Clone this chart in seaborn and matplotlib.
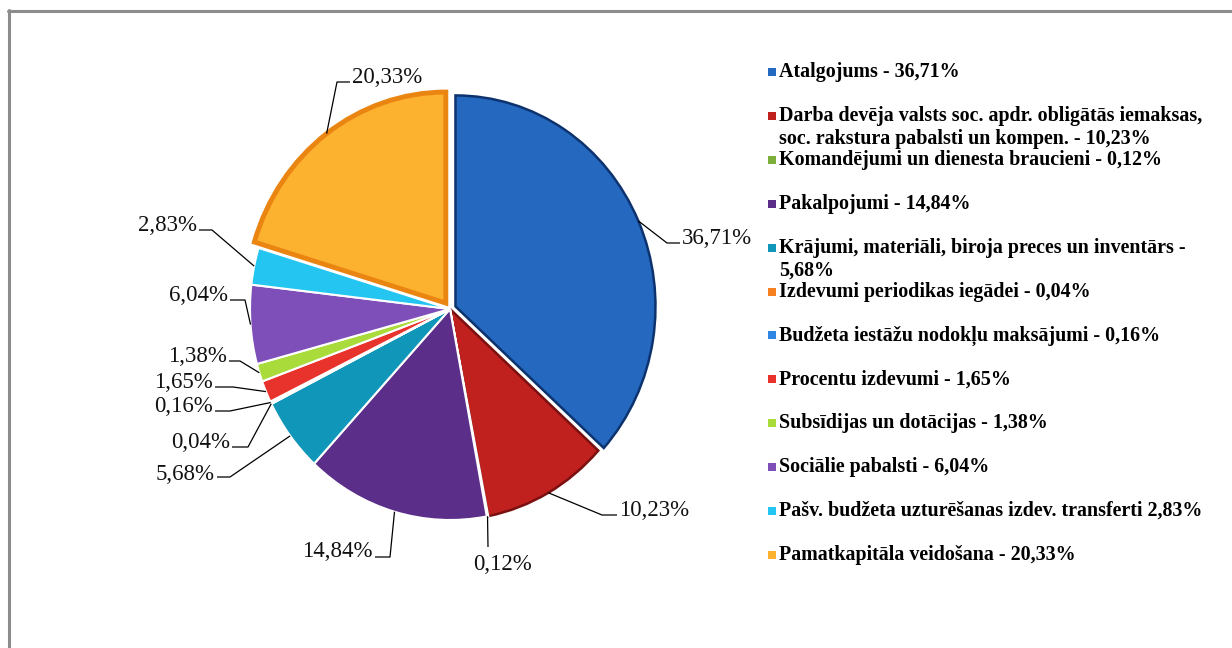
"""Expense structure pie chart (LV)."""

import matplotlib
import matplotlib.pyplot as plt
import numpy as np
import seaborn as sns
from matplotlib.lines import Line2D

matplotlib.use("Agg")

# ---- data ---------------------------------------------------------------
categories = [
    "Atalgojums",
    "Darba devēja valsts soc. apdr. obligātās iemaksas, soc. rakstura pabalsti un kompen.",
    "Komandējumi un dienesta braucieni",
    "Pakalpojumi",
    "Krājumi, materiāli, biroja preces un inventārs",
    "Izdevumi periodikas iegādei",
    "Budžeta iestāžu nodokļu maksājumi",
    "Procentu izdevumi",
    "Subsīdijas un dotācijas",
    "Sociālie pabalsti",
    "Pašv. budžeta uzturēšanas izdev. transferti",
    "Pamatkapitāla veidošana",
]
shares = [36.71, 10.23, 0.12, 14.84, 5.68, 0.04, 0.16, 1.65, 1.38, 6.04, 2.83, 20.33]
legend_labels = [
    "Atalgojums - 36,71%",
    "Darba devēja valsts soc. apdr. obligātās iemaksas,\nsoc. rakstura pabalsti un kompen. - 10,23%",
    "Komandējumi un dienesta braucieni - 0,12%",
    "Pakalpojumi - 14,84%",
    "Krājumi, materiāli, biroja preces un inventārs -\n5,68%",
    "Izdevumi periodikas iegādei - 0,04%",
    "Budžeta iestāžu nodokļu maksājumi - 0,16%",
    "Procentu izdevumi - 1,65%",
    "Subsīdijas un dotācijas - 1,38%",
    "Sociālie pabalsti - 6,04%",
    "Pašv. budžeta uzturēšanas izdev. transferti 2,83%",
    "Pamatkapitāla veidošana - 20,33%",
]

# ---- style --------------------------------------------------------------
colors = [
    "#2468C0", "#C0201E", "#7EAE3C", "#5A2E89", "#1096B9", "#F6801F",
    "#2F86E3", "#E8322C", "#A9DB3B", "#7E4FB9", "#24C6F1", "#FDB22F",
]
edge_colors = {0: "#0D336E", 1: "#7A1010", 11: "#EA8512"}
explode = [0.03, 0, 0, 0, 0, 0, 0, 0, 0, 0, 0, 0.035]

# label layout in pixels: (text x, baseline y, ha, leader elbow points)
label_layout = [
    (682, 244, "left", [(667, 243), (680, 243)]),
    (619, 516, "left", [(602, 515), (617, 515)]),
    (502, 570, "center", [(488, 547)]),
    (373, 557, "right", [(390, 557), (375, 557)]),
    (215, 480, "right", [(230, 477), (217, 477)]),
    (230, 448, "right", [(248, 447), (232, 447)]),
    (213, 412, "right", [(230, 411), (215, 411)]),
    (213, 388, "right", [(233, 387), (215, 387)]),
    (227, 362, "right", [(240, 361), (229, 361)]),
    (228, 301, "right", [(245, 300), (230, 300)]),
    (197, 231, "right", [(212, 230), (199, 230)]),
    (352, 83, "left", [(337, 82), (350, 82)]),
]

W, H = 1232, 648
CX, CY, RX, RY = 450, 309, 200, 211


def dx(px):
    return (px - CX) / RX


def dy(py):
    return (CY - py) / RY


sns.set_theme(style="white")
plt.rcParams["font.family"] = ["Liberation Serif", "DejaVu Serif"]

fig = plt.figure(figsize=(W / 100, H / 100), dpi=100, facecolor="white")
ax = fig.add_axes([0, 0, 1, 1])

wedges, _ = ax.pie(
    shares,
    colors=colors,
    startangle=90,
    counterclock=False,
    explode=explode,
    wedgeprops=dict(edgecolor="white", linewidth=1.5),
)
for i, ec in edge_colors.items():
    wedges[i].set_edgecolor(ec)
    wedges[i].set_linewidth(3.5 if i == 11 else 1.8)

ax.set_aspect("auto")
ax.set_xlim(dx(0), dx(W))
ax.set_ylim(dy(H), dy(0))
ax.axis("off")

# data labels with leader lines
for w, v, (tx, ty, ha, elbows) in zip(wedges, shares, label_layout):
    mid = np.deg2rad((w.theta1 + w.theta2) / 2)
    ex = w.center[0] + w.r * np.cos(mid)
    ey = w.center[1] + w.r * np.sin(mid)
    xs = [ex] + [dx(p[0]) for p in elbows]
    ys = [ey] + [dy(p[1]) for p in elbows]
    ax.plot(xs, ys, color="black", lw=0.9, solid_capstyle="butt")
    ax.text(dx(tx), dy(ty), f"{v:.2f}".replace(".", ",") + "%",
            ha=ha, va="baseline", fontsize=16.5, color="#111111")

# legend, evenly spaced like the original
for i, (lab, col) in enumerate(zip(legend_labels, colors)):
    y = 72 + i * 43.9
    ax.scatter([dx(772)], [dy(y)], marker="s", s=30, color=col, linewidths=0)
    for k, line in enumerate(lab.split("\n")):
        ax.text(dx(779), dy(y + 5 + k * 23), line, ha="left", va="baseline",
                fontsize=14.4, fontweight="bold", color="black")

# outer frame (left and top edges visible)
fig.add_artist(Line2D([9 / W, 9 / W], [0, 1 - 10 / H], color="#8C8C8C", lw=2.2))
fig.add_artist(Line2D([8 / W, 1], [1 - 11 / H, 1 - 11 / H], color="#8C8C8C", lw=2.2))

fig.savefig("out.png", dpi=100, facecolor="white")
plt.close(fig)
